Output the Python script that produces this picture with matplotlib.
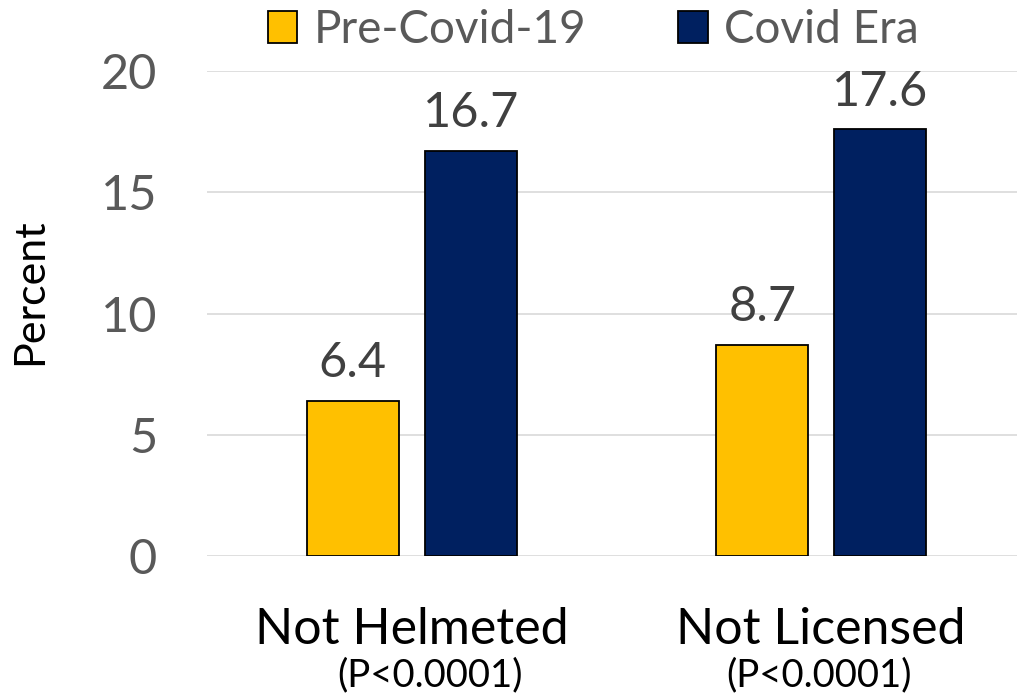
import numpy as np
import matplotlib.pyplot as plt
from matplotlib.patches import Patch

# 数据
categories = ['Not Helmeted', 'Not Licensed']
p_values = ['(P<0.0001)', '(P<0.0001)']
series_names = ['Pre-Covid-19', 'Covid Era']
pre_covid = [6.4, 8.7]
covid_era = [16.7, 17.6]
y_ticks = [0, 5, 10, 15, 20]


def main():
    plt.rcParams['font.family'] = ['Lato', 'DejaVu Sans']

    fig = plt.figure(figsize=(10.17, 7), dpi=100)
    ax = fig.add_axes([207 / 1017, 144 / 700, 819 / 1017, 485 / 700])

    x = np.arange(len(categories))
    width = 0.225
    offset = 0.144
    colors = ['#FFC000', '#002060']

    bars_1 = ax.bar(x - offset, pre_covid, width, color=colors[0],
                    edgecolor='black', linewidth=1.3, zorder=3)
    bars_2 = ax.bar(x + offset, covid_era, width, color=colors[1],
                    edgecolor='black', linewidth=1.3, zorder=3)

    # 数据标签
    for bars in [bars_1, bars_2]:
        for b in bars:
            h = b.get_height()
            ax.annotate('%.1f' % h, (b.get_x() + b.get_width() / 2, h),
                        xytext=(0, 17), textcoords='offset points',
                        ha='center', va='baseline', fontsize=35,
                        color='#404040')

    ax.set_xlim(-0.5, 1.5)
    ax.set_ylim(0, 20)
    ax.set_yticks(y_ticks)
    ax.set_yticklabels([str(t) for t in y_ticks], fontsize=35, color='#595959')
    ax.set_xticks(x)
    ax.set_xticklabels(categories, fontsize=36, color='black')
    ax.tick_params(axis='y', length=0, pad=36)
    ax.tick_params(axis='x', length=0, pad=37)
    ax.grid(axis='y', color='#D9D9D9', linewidth=1.2, zorder=0)
    for s in ax.spines.values():
        s.set_visible(False)

    # P值
    p_shift = [0.045, -0.006]
    for i, p in enumerate(p_values):
        ax.text(x[i] + p_shift[i], -5.38, p, ha='center', va='baseline',
                fontsize=27.5, color='black')

    fig.text(30 / 1017, 1 - 292 / 700, 'Percent', rotation=90,
             ha='center', va='center', fontsize=31, color='black')

    handles = [Patch(facecolor=colors[0], edgecolor='black', linewidth=1.3),
               Patch(facecolor=colors[1], edgecolor='black', linewidth=1.3)]
    fig.legend(handles, series_names, loc='upper center',
               bbox_to_anchor=(593 / 1017, 1 - 9 / 700), ncol=2, frameon=False,
               fontsize=33, labelcolor='#595959', handlelength=0.65,
               handleheight=0.7, handletextpad=0.35, columnspacing=2.0,
               borderpad=0, borderaxespad=0)

    fig.savefig('out.png', dpi=100)


if __name__ == '__main__':
    main()
